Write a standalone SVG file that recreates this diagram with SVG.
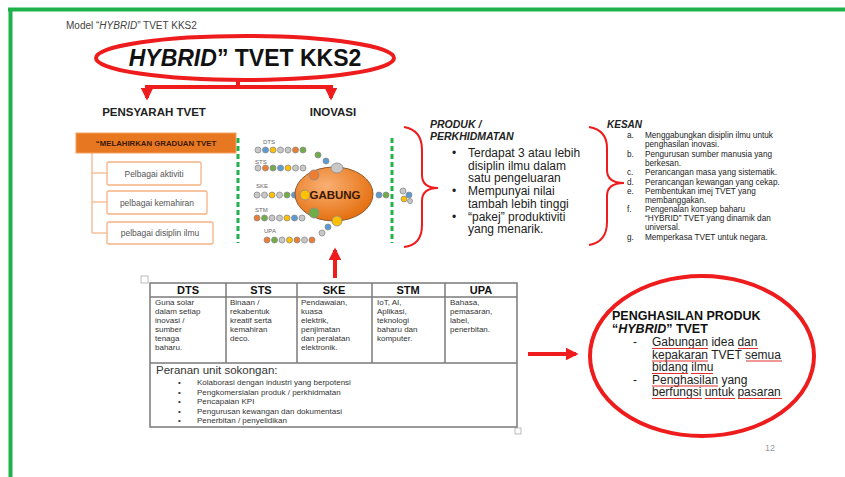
<svg xmlns="http://www.w3.org/2000/svg" width="845" height="477" viewBox="0 0 845 477">
<defs>
<style>
.sans{font-family:"Liberation Sans",Arial,sans-serif}
.dot{stroke:#8c8c8c;stroke-width:0.8}
.g{fill:#c8c8c8}.b{fill:#5b9bd5}.y{fill:#ffc000}.o{fill:#ed7d31}.gr{fill:#70ad47}
.red{stroke:#ee1c1c;fill:none}
.tb{stroke:#7a7a7a;stroke-width:1.5;fill:none}
.td{font-family:"Liberation Sans",Arial,sans-serif;font-size:8px;fill:#333}
.th{font-family:"Liberation Sans",Arial,sans-serif;font-size:11px;font-weight:bold;fill:#111;text-anchor:middle}
.ks{font-family:"Liberation Sans",Arial,sans-serif;font-size:8.2px;fill:#222}
.ul{stroke:#e03030;stroke-width:1}
</style>
<radialGradient id="og" cx="0.4" cy="0.35" r="0.7">
<stop offset="0" stop-color="#f9b074"/><stop offset="1" stop-color="#e46c0a"/>
</radialGradient>
<marker id="ah" viewBox="0 0 10 10" refX="8" refY="5" markerWidth="3.2" markerHeight="3.2" orient="auto">
<path d="M0,0 L10,5 L0,10 z" fill="#ee1c1c"/>
</marker>
</defs>
<rect width="845" height="477" fill="#fff"/>
<g id="frame">
<line x1="8" y1="9.5" x2="845" y2="9.5" stroke="#1fb24a" stroke-width="4"/>
<line x1="10.5" y1="8" x2="10.5" y2="477" stroke="#1fb24a" stroke-width="4"/>
</g>
<text class="sans" x="66" y="29" font-size="10" fill="#444">Model “<tspan font-style="italic">HYBRID</tspan>” TVET KKS2</text>

<g id="title">
<ellipse cx="245" cy="58" rx="149" ry="22" class="red" stroke-width="4"/>
<text class="sans" x="245" y="66" font-size="23" font-weight="bold" fill="#111" text-anchor="middle"><tspan font-style="italic">HYBRID</tspan>” TVET KKS2</text>
</g>

<g id="connectors">
<polyline points="238,80 238,87 147,87 147,98" class="red" stroke-width="4" marker-end="url(#ah)"/>
<line x1="238" y1="87" x2="331" y2="87" class="red" stroke-width="4"/>
<line x1="331" y1="85" x2="331" y2="98" class="red" stroke-width="4" marker-end="url(#ah)"/>
<line x1="335" y1="278" x2="335" y2="250" class="red" stroke-width="4" marker-end="url(#ah)"/>
<line x1="528" y1="354" x2="576" y2="354" class="red" stroke-width="4" marker-end="url(#ah)"/>
<line x1="92" y1="152" x2="92" y2="233" stroke="#f4b183" stroke-width="1.2"/>
<line x1="92" y1="173" x2="107" y2="173" stroke="#f4b183" stroke-width="1.2"/>
<line x1="92" y1="202" x2="107" y2="202" stroke="#f4b183" stroke-width="1.2"/>
<line x1="92" y1="233" x2="107" y2="233" stroke="#f4b183" stroke-width="1.2"/>
</g>

<g id="pensyarah">
<text class="sans" x="154" y="116" font-size="11.5" font-weight="bold" fill="#222" text-anchor="middle">PENSYARAH TVET</text>
</g>
<g id="inovasi">
<text class="sans" x="333" y="116" font-size="11.5" font-weight="bold" fill="#222" text-anchor="middle">INOVASI</text>
</g>

<g id="melahirkan">
<rect x="76" y="133" width="160" height="20" fill="#e87722" stroke="#f4a460" stroke-width="1"/>
<text class="sans" x="156" y="146" font-size="7.8" font-weight="bold" fill="#3b1800" text-anchor="middle">“MELAHIRKAN GRADUAN TVET</text>
</g>
<g id="aktiviti">
<rect x="107" y="162" width="94" height="23" rx="2" fill="#fff" stroke="#f4b183" stroke-width="1.3"/>
<text class="sans" x="154" y="177" font-size="8.5" fill="#555" text-anchor="middle">Pelbagai aktiviti</text>
</g>
<g id="kemahiran">
<rect x="107" y="191" width="100" height="23" rx="2" fill="#fff" stroke="#f4b183" stroke-width="1.3"/>
<text class="sans" x="157" y="206" font-size="8.5" fill="#555" text-anchor="middle">pelbagai kemahiran</text>
</g>
<g id="disiplin">
<rect x="107" y="222" width="106" height="22" rx="2" fill="#fff" stroke="#f4b183" stroke-width="1.3"/>
<text class="sans" x="160" y="236" font-size="8.5" fill="#555" text-anchor="middle">pelbagai disiplin ilmu</text>
</g>

<g id="dividers">
<line x1="238" y1="138" x2="238" y2="243" stroke="#22b14c" stroke-width="3" stroke-dasharray="5,3"/>
<line x1="392" y1="138" x2="392" y2="243" stroke="#22b14c" stroke-width="3" stroke-dasharray="5,3"/>
</g>

<g id="gabung">
<g font-family="Liberation Sans, Arial, sans-serif" font-size="6" fill="#666">
<text x="263" y="144">DTS</text>
<text x="255" y="164">STS</text>
<text x="256" y="188">SKE</text>
<text x="255" y="212">STM</text>
<text x="264" y="233">UPA</text>
</g>
<g class="dot">
<circle class="g" cx="258" cy="150" r="3"/><circle class="b" cx="265.5" cy="150" r="3"/><circle class="y" cx="273" cy="150" r="3"/><circle class="g" cx="280.5" cy="150" r="3"/><circle class="g" cx="288" cy="150" r="3"/><circle class="o" cx="295.5" cy="150" r="3"/><circle class="gr" cx="303" cy="150" r="3"/>
<circle class="gr" cx="318" cy="155" r="3"/><circle class="b" cx="326" cy="161" r="3"/>
<circle class="g" cx="258" cy="168" r="3"/><circle class="o" cx="265.5" cy="168" r="3"/><circle class="gr" cx="273" cy="168" r="3"/><circle class="b" cx="280.5" cy="168" r="3"/><circle class="y" cx="288" cy="168" r="3"/><circle class="g" cx="295.5" cy="168" r="3"/><circle class="g" cx="303" cy="168" r="3"/>
<circle class="g" cx="257" cy="195" r="3"/><circle class="g" cx="264.5" cy="195" r="3"/><circle class="y" cx="272" cy="195" r="3"/><circle class="g" cx="279.5" cy="195" r="3"/><circle class="gr" cx="287" cy="195" r="3"/><circle class="b" cx="294.5" cy="195" r="3"/>
<circle class="o" cx="257" cy="218" r="3"/><circle class="gr" cx="264.5" cy="218" r="3"/><circle class="g" cx="272" cy="218" r="3"/><circle class="g" cx="279.5" cy="218" r="3"/><circle class="y" cx="287" cy="218" r="3"/><circle class="b" cx="294.5" cy="218" r="3"/><circle class="g" cx="302" cy="218" r="3"/>
<circle class="o" cx="267" cy="240" r="3"/><circle class="gr" cx="274.5" cy="240" r="3"/><circle class="g" cx="282" cy="240" r="3"/><circle class="y" cx="289.5" cy="240" r="3"/><circle class="o" cx="297" cy="240" r="3"/><circle class="g" cx="304.5" cy="240" r="3"/><circle class="o" cx="312" cy="240" r="3"/>
<circle class="g" cx="322" cy="233" r="3"/><circle class="b" cx="328" cy="227" r="3"/>
</g>
<ellipse cx="334" cy="194" rx="39" ry="27" fill="url(#og)" stroke="#8a5a30" stroke-width="1"/>
<g class="dot">
<ellipse class="g" cx="337" cy="168" rx="6" ry="5"/>
<circle class="o" cx="314" cy="175" r="5"/>
<circle class="y" cx="305" cy="195" r="5"/>
<circle class="gr" cx="314" cy="213" r="5"/>
<circle class="y" cx="337" cy="221" r="5"/>
<circle class="b" cx="379" cy="195" r="3"/><circle class="gr" cx="386" cy="195" r="3"/>
<circle class="g" cx="403" cy="191" r="3"/><circle class="b" cx="409" cy="195" r="3"/><circle class="y" cx="404" cy="199" r="3"/><circle class="g" cx="410" cy="201" r="2.5"/>
</g>
<text class="sans" x="335" y="199" font-size="11.5" font-weight="bold" fill="#3b1800" text-anchor="middle">GABUNG</text>
</g>

<g id="braces">
<path d="M404,127 Q422,130 422,150 L422,175 Q422,188 438,188 Q422,188 422,201 L422,225 Q422,245 404,247" class="red" stroke-width="2"/>
<path d="M589,127 Q607,130 607,148 L607,170 Q607,183 624,183 Q607,183 607,196 L607,222 Q607,242 589,245" class="red" stroke-width="2"/>
</g>

<g id="produk">
<text class="sans" font-size="10.5" font-weight="bold" font-style="italic" fill="#222"><tspan x="430" y="128">PRODUK /</tspan><tspan x="430" y="140">PERKHIDMATAN</tspan></text>
<g class="sans" font-size="12" fill="#222">
<text x="452" y="157">•</text><text x="452" y="195">•</text><text x="452" y="221">•</text>
<text><tspan x="468" y="157">Terdapat 3 atau lebih</tspan><tspan x="468" y="169.7">disiplin ilmu dalam</tspan><tspan x="468" y="182.4">satu pengeluaran</tspan><tspan x="468" y="195.1">Mempunyai nilai</tspan><tspan x="468" y="207.8">tambah lebih tinggi</tspan><tspan x="468" y="220.5">“pakej” produktiviti</tspan><tspan x="468" y="233.2">yang menarik.</tspan></text>
</g>
</g>

<g id="kesan">
<text class="sans" x="607" y="128" font-size="10" font-weight="bold" font-style="italic" fill="#222">KESAN</text>
<g class="ks">
<text x="627" y="138">a.</text><text x="627" y="157">b.</text><text x="627" y="175">c.</text><text x="627" y="184.5">d.</text><text x="627" y="194">e.</text><text x="627" y="212">f.</text><text x="627" y="240">g.</text>
<text x="645" y="138">Menggabungkan disiplin ilmu untuk</text>
<text x="645" y="147">penghasilan inovasi.</text>
<text x="645" y="157">Pengurusan sumber manusia yang</text>
<text x="645" y="166">berkesan.</text>
<text x="645" y="175">Perancangan masa yang sistematik.</text>
<text x="645" y="184.5">Perancangan kewangan yang cekap.</text>
<text x="645" y="194">Pembentukan imej TVET yang</text>
<text x="645" y="203">membanggakan.</text>
<text x="645" y="212">Pengenalan konsep baharu</text>
<text x="645" y="221">“HYBRID” TVET yang dinamik dan</text>
<text x="645" y="230">universal.</text>
<text x="645" y="240">Memperkasa TVET untuk negara.</text>
</g>
</g>

<g id="table">
<rect x="141" y="276" width="7" height="7" fill="#fff" stroke="#aaa" stroke-width="0.8"/>
<rect x="515" y="428" width="6" height="6" fill="#fff" stroke="#aaa" stroke-width="0.8"/>
<rect x="150" y="283" width="367" height="144" class="tb"/>
<line x1="150" y1="297" x2="517" y2="297" class="tb"/>
<line x1="150" y1="363" x2="517" y2="363" class="tb"/>
<line x1="226" y1="283" x2="226" y2="363" class="tb"/>
<line x1="297" y1="283" x2="297" y2="363" class="tb"/>
<line x1="372" y1="283" x2="372" y2="363" class="tb"/>
<line x1="445" y1="283" x2="445" y2="363" class="tb"/>
<text class="th" x="188" y="294">DTS</text>
<text class="th" x="261" y="294">STS</text>
<text class="th" x="334" y="294">SKE</text>
<text class="th" x="408" y="294">STM</text>
<text class="th" x="481" y="294">UPA</text>
<text class="td"><tspan x="155" y="305">Guna solar</tspan><tspan x="155" y="314">dalam setiap</tspan><tspan x="155" y="323">inovasi /</tspan><tspan x="155" y="332">sumber</tspan><tspan x="155" y="341">tenaga</tspan><tspan x="155" y="350">baharu.</tspan></text>
<text class="td"><tspan x="230" y="305">Binaan /</tspan><tspan x="230" y="314">rekabentuk</tspan><tspan x="230" y="323">kreatif serta</tspan><tspan x="230" y="332">kemahiran</tspan><tspan x="230" y="341">deco.</tspan></text>
<text class="td"><tspan x="301" y="305">Pendawaian,</tspan><tspan x="301" y="314">kuasa</tspan><tspan x="301" y="323">elektrik,</tspan><tspan x="301" y="332">penjimatan</tspan><tspan x="301" y="341">dan peralatan</tspan><tspan x="301" y="350">elektronik.</tspan></text>
<text class="td"><tspan x="377" y="305">IoT, AI,</tspan><tspan x="377" y="314">Aplikasi,</tspan><tspan x="377" y="323">teknologi</tspan><tspan x="377" y="332">baharu dan</tspan><tspan x="377" y="341">komputer.</tspan></text>
<text class="td"><tspan x="450" y="305">Bahasa,</tspan><tspan x="450" y="314">pemasaran,</tspan><tspan x="450" y="323">label,</tspan><tspan x="450" y="332">penerbitan.</tspan></text>
<text class="sans" x="156" y="374" font-size="11.5" fill="#333">Peranan unit sokongan:</text>
<g class="td" font-size="8">
<text x="178" y="385">•</text><text x="178" y="394.5">•</text><text x="178" y="404">•</text><text x="178" y="413.5">•</text><text x="178" y="423">•</text>
<text x="197" y="385">Kolaborasi dengan industri yang berpotensi</text>
<text x="197" y="394.5">Pengkomersialan produk / perkhidmatan</text>
<text x="197" y="404">Pencapaian KPI</text>
<text x="197" y="413.5">Pengurusan kewangan dan dokumentasi</text>
<text x="197" y="423">Penerbitan / penyelidikan</text>
</g>
</g>

<g id="penghasilan">
<ellipse cx="702" cy="356" rx="112" ry="80" class="red" stroke-width="4"/>
<text class="sans" font-size="12.5" font-weight="bold" fill="#111"><tspan x="612" y="320">PENGHASILAN PRODUK</tspan><tspan x="612" y="333">“<tspan font-style="italic">HYBRID</tspan>” TVET</tspan></text>
<g class="sans" font-size="12" fill="#222">
<text x="633" y="346">-</text><text x="633" y="383.5">-</text>
<text><tspan x="652" y="346">Gabungan idea dan</tspan><tspan x="652" y="358.5">kepakaran TVET semua</tspan><tspan x="652" y="371">bidang ilmu</tspan><tspan x="652" y="383.5">Penghasilan yang</tspan><tspan x="652" y="396">berfungsi untuk pasaran</tspan></text>
</g>
<g class="ul">
<line x1="652" y1="348.5" x2="708" y2="348.5"/><line x1="738" y1="348.5" x2="758" y2="348.5"/>
<line x1="652" y1="361" x2="708" y2="361"/><line x1="746" y1="361" x2="782" y2="361"/>
<line x1="652" y1="373.5" x2="688" y2="373.5"/><line x1="691" y1="373.5" x2="713" y2="373.5"/>
<line x1="652" y1="386" x2="718" y2="386"/>
<line x1="652" y1="398.5" x2="702" y2="398.5"/><line x1="705" y1="398.5" x2="735" y2="398.5"/><line x1="738" y1="398.5" x2="782" y2="398.5"/>
</g>
</g>
<text class="sans" x="770" y="451" font-size="9" fill="#999" text-anchor="middle">12</text>
</svg>
